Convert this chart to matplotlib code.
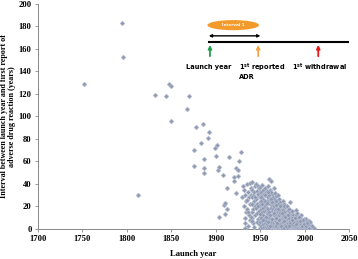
import matplotlib
matplotlib.use("Agg")
import matplotlib.pyplot as plt
from matplotlib.patches import Ellipse

# Outlying points (launch year, interval)
outlier_years = [1752, 1794, 1796, 1812, 1832, 1844, 1847, 1850, 1850, 1867, 1870,
                 1875, 1875, 1878, 1883, 1886, 1887, 1887, 1887, 1891, 1892, 1899,
                 1900, 1901, 1902, 1903, 1904, 1908, 1909, 1910, 1910, 1912, 1912,
                 1915, 1920, 1920, 1922, 1922, 1925, 1925, 1926, 1928, 1929, 1933, 1933]
outlier_vals = [129, 183, 153, 30, 119, 118, 129, 127, 96, 107, 118,
                70, 56, 91, 76, 93, 62, 54, 50, 81, 86, 72,
                65, 75, 52, 11, 55, 48, 21, 23, 13, 36, 18,
                64, 46, 43, 54, 32, 52, 47, 60, 68, 28, 10, 1]

# Dense cloud of points (launch year, interval)
cloud = [
 (1931,20),(1932,35),(1933,30),(1934,25),(1930,38),(1934,15),(1933,5),
 (1935,40),(1936,33),(1937,28),(1938,22),(1939,36),(1935,18),(1937,12),(1938,8),(1936,3),(1939,30),(1935,26),(1938,41),
 (1940,42),(1941,35),(1942,30),(1943,25),(1944,20),(1940,15),(1941,10),(1942,5),(1943,2),(1944,38),(1940,28),(1942,18),(1943,33),(1941,22),(1944,12),(1940,7),
 (1945,40),(1946,34),(1947,38),(1948,29),(1949,24),(1945,19),(1946,14),(1947,9),(1948,4),(1949,1),(1945,27),(1946,22),(1947,31),(1948,16),(1949,11),(1946,6),(1948,36),(1949,33),
 (1950,37),(1951,33),(1952,30),(1953,27),(1954,24),(1950,21),(1951,18),(1952,15),(1953,12),(1954,9),(1950,6),(1951,3),(1952,1),(1953,35),(1954,31),(1950,28),(1951,25),(1952,22),(1953,19),(1954,16),(1950,13),(1951,10),(1952,7),(1953,4),(1954,2),(1952,39),
 (1955,36),(1956,33),(1957,29),(1958,26),(1959,23),(1955,20),(1956,17),(1957,14),(1958,11),(1959,8),(1955,5),(1956,2),(1957,1),(1958,31),(1959,28),(1955,25),(1956,22),(1957,19),(1958,16),(1959,13),(1955,10),(1956,7),(1957,4),(1958,3),(1959,18),(1957,34),(1959,38),
 (1960,44),(1962,43),(1961,35),(1963,31),(1964,28),(1960,25),(1961,22),(1962,19),(1963,16),(1964,13),(1960,10),(1961,7),(1962,4),(1963,1),(1964,2),(1960,30),(1961,27),(1962,24),(1963,21),(1964,18),(1960,15),(1961,12),(1962,9),(1963,6),(1964,3),(1960,1),(1962,33),(1964,22),
 (1965,36),(1966,32),(1967,29),(1968,26),(1969,23),(1965,20),(1966,17),(1967,14),(1968,11),(1969,8),(1965,5),(1966,2),(1967,1),(1968,4),(1969,1),(1965,27),(1966,24),(1967,21),(1968,18),(1969,15),(1965,12),(1966,9),(1967,6),(1968,3),(1969,12),(1966,13),(1968,7),
 (1970,30),(1971,27),(1972,24),(1973,21),(1974,18),(1970,15),(1971,12),(1972,9),(1973,6),(1974,3),(1970,1),(1971,2),(1972,1),(1973,1),(1974,1),(1970,22),(1971,19),(1972,16),(1973,13),(1974,10),(1970,7),(1971,4),(1972,5),(1973,9),(1974,6),(1972,14),
 (1975,25),(1976,22),(1977,19),(1978,16),(1979,13),(1975,10),(1976,7),(1977,4),(1978,1),(1979,2),(1975,17),(1976,14),(1977,11),(1978,8),(1979,5),(1975,3),(1976,1),(1977,1),(1978,4),(1979,9),(1976,20),(1975,6),
 (1980,20),(1981,17),(1982,14),(1983,11),(1984,8),(1980,5),(1981,2),(1982,1),(1983,1),(1984,2),(1980,12),(1981,9),(1982,6),(1983,3),(1984,4),(1980,1),(1981,5),(1982,10),(1983,7),(1984,13),(1983,24),
 (1985,15),(1986,12),(1987,9),(1988,6),(1989,3),(1985,1),(1986,2),(1987,1),(1988,1),(1989,1),(1985,8),(1986,5),(1987,4),(1988,3),(1989,7),(1986,16),(1987,12),(1988,10),(1985,4),
 (1990,12),(1991,9),(1992,6),(1993,3),(1994,1),(1990,2),(1991,1),(1992,1),(1993,5),(1994,4),(1990,7),(1991,4),(1992,10),(1993,8),(1994,2),(1991,14),(1990,17),
 (1995,10),(1996,7),(1997,4),(1998,1),(1999,2),(1995,1),(1996,2),(1997,1),(1998,5),(1999,6),(1995,5),(1996,12),(1997,8),(1998,3),(1999,9),
 (2000,8),(2001,5),(2002,2),(2003,1),(2004,1),(2000,2),(2001,1),(2002,4),(2003,6),(2004,3),(2000,5),(2001,9),(2002,7),(2004,5),
 (2005,4),(2006,2),(2007,1),(2008,1),(2009,1),(2005,1),(2006,4),(2007,3),(2008,2),(2010,1),(2005,7),(2006,6),
 # additional points filling the dense lower region
 (1953,8),(1956,11),(1958,6),(1961,3),(1963,9),(1965,14),(1967,10),(1969,5),(1971,8),(1973,3),
 (1975,12),(1977,7),(1979,3),(1981,12),(1983,5),(1985,10),(1987,6),(1989,10),(1991,6),(1993,11),
 (1995,7),(1997,3),(1999,4),(2001,3),(2003,4),(2008,3),(1957,23),(1962,27),(1967,25),(1972,20),
 (1977,15),(1982,18),(1947,20),(1944,28),(1951,28),(1955,30),(1959,33),(1963,24),(1968,21),(1970,18),
 (1974,14),(1978,11),(1982,3),(1986,8),(1990,4),(1994,7),(1998,8),(2002,5),(1936,15),(1939,11),
]
cloud_years = [c[0] for c in cloud]
cloud_vals = [c[1] for c in cloud]

x_ticks = [1700, 1750, 1800, 1850, 1900, 1950, 2000, 2050]
y_ticks = [0, 20, 40, 60, 80, 100, 120, 140, 160, 180, 200]

fig = plt.figure(figsize=(3.58, 2.59), dpi=100)
ax = fig.add_axes([0.106, 0.116, 0.870, 0.869])

years = outlier_years + cloud_years
vals = outlier_vals + cloud_vals
ax.scatter(years, vals, s=6, marker='D', color='#8e99b4', edgecolors='#bcc3d2',
           linewidths=0.4, zorder=3)

ax.set_xlim(1700, 2050)
ax.set_ylim(0, 200)
ax.set_xticks(x_ticks)
ax.set_yticks(y_ticks)
serif = 'Liberation Serif'
for lab in ax.get_xticklabels() + ax.get_yticklabels():
    lab.set_fontfamily(serif)
    lab.set_fontweight('bold')
    lab.set_fontsize(6.2)
ax.tick_params(axis='both', length=2.5, width=0.6, color='#888888', pad=2)
for s in ['top', 'right']:
    ax.spines[s].set_visible(False)
for s in ['left', 'bottom']:
    ax.spines[s].set_color('#888888')
    ax.spines[s].set_linewidth(0.7)

ax.set_xlabel('Launch year', fontfamily=serif, fontweight='bold', fontsize=6.2, labelpad=5)
ax.set_ylabel('Interval between launch year and first report of\nadverse drug reaction (years)',
              fontfamily=serif, fontweight='bold', fontsize=5.8, labelpad=2, linespacing=1.0)

# Inset schematic
ax.plot([1892, 2049], [166.2, 166.2], color='black', lw=1.5, zorder=4)
ax.annotate('', xy=(1892, 171.6), xytext=(1950, 171.6),
            arrowprops=dict(arrowstyle='<|-|>', color='black', lw=1.0, mutation_scale=4,
                            shrinkA=0, shrinkB=0))
ax.add_patch(Ellipse((1919.4, 181.1), 58, 9, facecolor='#f39a2c', edgecolor='none', zorder=4))
ax.text(1919.4, 181.1, 'Interval 1', color='white', fontsize=3, ha='center', va='center',
        fontweight='bold', zorder=5)
for xa, col in [(1893.3, '#1e9e48'), (1947.5, '#f5a545'), (2015, '#e4161b')]:
    ax.annotate('', xy=(xa, 163.5), xytext=(xa, 153.5),
                arrowprops=dict(arrowstyle='-|>', color=col, lw=1.3, mutation_scale=5,
                                shrinkA=0, shrinkB=0))
fs = 4.8
ax.text(1892, 143.5, 'Launch year', fontsize=fs, ha='center', va='center', fontweight='bold')
ax.text(1926, 143.5, '1$^{\\mathbf{st}}$ reported', fontsize=fs, ha='left', va='center', fontweight='bold')
ax.text(1926, 135.0, 'ADR', fontsize=fs, ha='left', va='center', fontweight='bold')
ax.text(2016, 143.5, '1$^{\\mathbf{st}}$ withdrawal', fontsize=fs, ha='center', va='center', fontweight='bold')

fig.savefig('out.png', dpi=100)
